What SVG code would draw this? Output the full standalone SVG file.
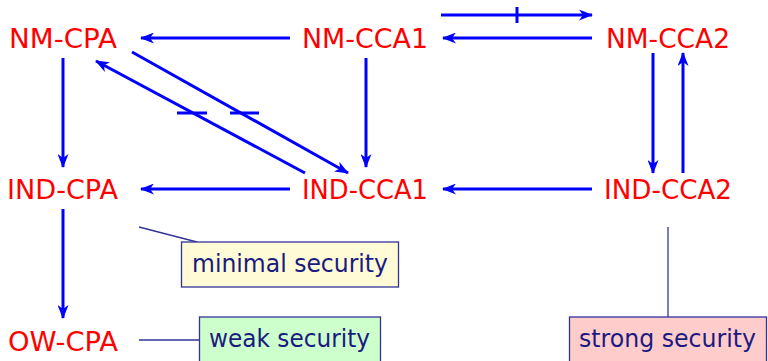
<svg xmlns="http://www.w3.org/2000/svg" width="768" height="361" viewBox="0 0 768 361">
<style>
.n{font-family:"DejaVu Sans",sans-serif;font-size:27px;fill:#ff0000}
.c{fill:none;stroke:#0000ff;stroke-width:3}
.t{fill:none;stroke:#0000ff;stroke-width:3}
.cl{fill:none;stroke:#33339a;stroke-width:1.3}
.b{stroke:#33339a;stroke-width:1.3}
.bt{font-family:"DejaVu Sans",sans-serif;font-size:25px;fill:#1a1a80}
</style>
<defs>
<marker id="ah" viewBox="0 0 14 11" refX="13" refY="5.5" markerWidth="14" markerHeight="11" markerUnits="userSpaceOnUse" orient="auto">
<path d="M0,0 L14,5.5 L0,11 L4,5.5 z" fill="#0000ff"/>
</marker>
</defs>
<rect width="768" height="361" fill="#ffffff"/>
<g id="connectors">
<line class="c" x1="290" y1="38" x2="141" y2="38" marker-end="url(#ah)"/>
<line class="c" x1="63" y1="58" x2="63" y2="167" marker-end="url(#ah)"/>
<line class="c" x1="366" y1="58" x2="366" y2="167" marker-end="url(#ah)"/>
<line class="c" x1="132" y1="52" x2="348" y2="173" marker-end="url(#ah)"/>
<line class="c" x1="305" y1="173" x2="96" y2="61" marker-end="url(#ah)"/>
<line class="t" x1="177" y1="113" x2="207" y2="113"/>
<line class="t" x1="230" y1="113" x2="259" y2="113"/>
<line class="c" x1="290" y1="189" x2="141" y2="189" marker-end="url(#ah)"/>
<line class="c" x1="441" y1="15" x2="592" y2="15" marker-end="url(#ah)"/>
<line class="t" x1="517" y1="7" x2="517" y2="23"/>
<line class="c" x1="592" y1="38" x2="443" y2="38" marker-end="url(#ah)"/>
<line class="c" x1="653" y1="53" x2="653" y2="173" marker-end="url(#ah)"/>
<line class="c" x1="683" y1="173" x2="683" y2="53" marker-end="url(#ah)"/>
<line class="c" x1="592" y1="189" x2="443" y2="189" marker-end="url(#ah)"/>
<line class="c" x1="63" y1="209" x2="63" y2="318" marker-end="url(#ah)"/>
<line class="cl" x1="139" y1="227" x2="197" y2="242"/>
<line class="cl" x1="139" y1="340" x2="199" y2="340"/>
<line class="cl" x1="668" y1="227" x2="668" y2="317"/>
</g>
<g id="nm-cpa"><text class="n" x="9" y="48" textLength="108" lengthAdjust="spacingAndGlyphs">NM-CPA</text></g>
<g id="nm-cca1"><text class="n" x="302" y="48" textLength="126" lengthAdjust="spacingAndGlyphs">NM-CCA1</text></g>
<g id="nm-cca2"><text class="n" x="606" y="48" textLength="124" lengthAdjust="spacingAndGlyphs">NM-CCA2</text></g>
<g id="ind-cpa"><text class="n" x="7" y="199" textLength="111" lengthAdjust="spacingAndGlyphs">IND-CPA</text></g>
<g id="ind-cca1"><text class="n" x="302" y="199" textLength="126" lengthAdjust="spacingAndGlyphs">IND-CCA1</text></g>
<g id="ind-cca2"><text class="n" x="604" y="199" textLength="128" lengthAdjust="spacingAndGlyphs">IND-CCA2</text></g>
<g id="ow-cpa"><text class="n" x="8" y="351" textLength="110" lengthAdjust="spacingAndGlyphs">OW-CPA</text></g>
<g id="minimal">
<rect class="b" x="181.5" y="242" width="217" height="45" fill="#fffbd6"/>
<text class="bt" x="192" y="272" textLength="196" lengthAdjust="spacingAndGlyphs">minimal security</text>
</g>
<g id="weak">
<rect class="b" x="199.5" y="317" width="181" height="50" fill="#ccffcc"/>
<text class="bt" x="209" y="347" textLength="161" lengthAdjust="spacingAndGlyphs">weak security</text>
</g>
<g id="strong">
<rect class="b" x="569.5" y="317" width="197" height="50" fill="#ffcccc"/>
<text class="bt" x="579" y="347" textLength="177" lengthAdjust="spacingAndGlyphs">strong security</text>
</g>
</svg>
